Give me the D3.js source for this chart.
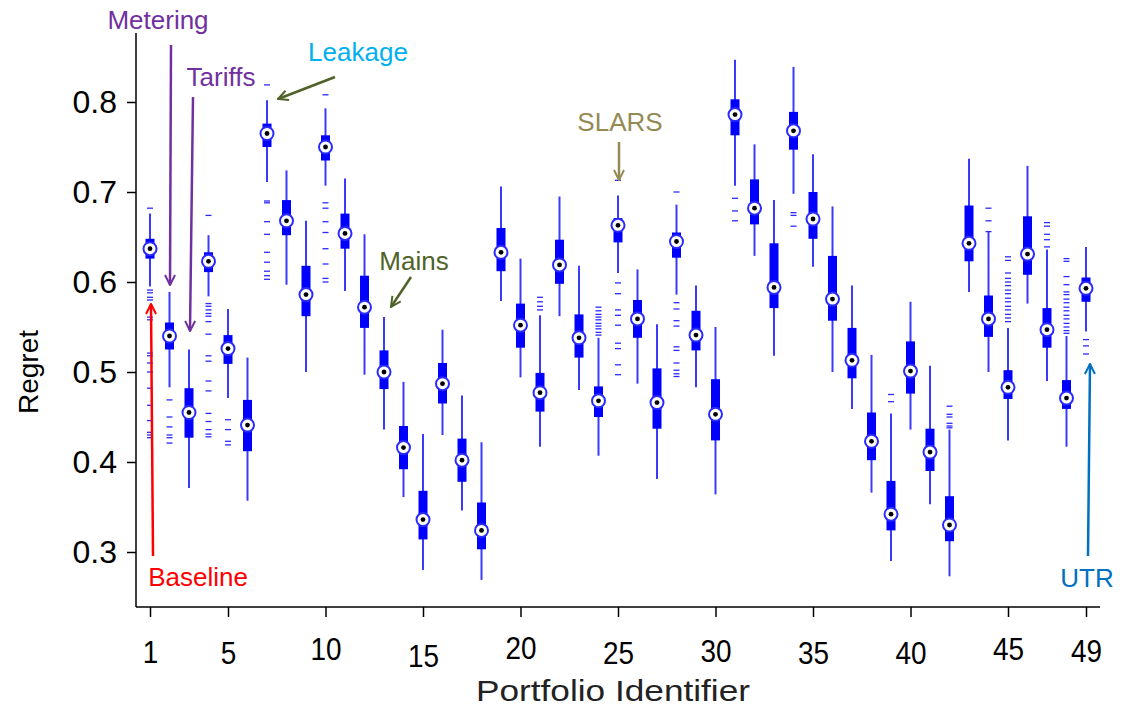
<!DOCTYPE html>
<html>
<head>
<meta charset="utf-8">
<script src="https://cdn.jsdelivr.net/npm/d3@7"></script>
<style>
  html, body { margin: 0; padding: 0; background: #fff; }
  svg { display: block; font-family: Arial, "Liberation Sans", sans-serif; }
</style>
</head>
<body>
<svg id="chart" width="1124" height="706"></svg>
<script>
// Portfolio identifiers 1..49
const portfolios = [1,2,3,4,5,6,7,8,9,10,11,12,13,14,15,16,17,18,19,20,21,22,23,24,25,
  26,27,28,29,30,31,32,33,34,35,36,37,38,39,40,41,42,43,44,45,46,47,48,49];

// Box-plot summaries of regret for each portfolio
const whiskerLow = [0.595,0.483,0.371,0.584,0.471,0.357,0.711,0.597,0.500,0.707,
  0.590,0.497,0.436,0.361,0.280,0.430,0.346,0.269,0.579,0.494,
  0.417,0.562,0.480,0.407,0.610,0.487,0.381,0.586,0.483,0.364,
  0.707,0.629,0.518,0.698,0.617,0.500,0.459,0.366,0.290,0.436,
  0.353,0.273,0.589,0.500,0.424,0.576,0.490,0.417,0.545];
const lowerQuartile = [0.626,0.525,0.427,0.611,0.509,0.412,0.750,0.652,0.562,0.735,
  0.637,0.549,0.481,0.392,0.314,0.465,0.378,0.303,0.612,0.527,
  0.456,0.598,0.516,0.450,0.644,0.538,0.437,0.627,0.524,0.424,
  0.763,0.664,0.571,0.747,0.648,0.557,0.493,0.402,0.324,0.476,
  0.390,0.312,0.623,0.539,0.470,0.608,0.527,0.459,0.578];
const medians = [0.637,0.540,0.455,0.623,0.526,0.441,0.765,0.668,0.586,0.750,
  0.654,0.572,0.500,0.416,0.336,0.487,0.402,0.324,0.633,0.552,
  0.477,0.619,0.538,0.468,0.663,0.559,0.466,0.645,0.541,0.453,
  0.786,0.682,0.594,0.768,0.670,0.581,0.513,0.423,0.342,0.501,
  0.411,0.330,0.643,0.559,0.483,0.631,0.547,0.471,0.593];
const upperQuartile = [0.648,0.555,0.482,0.633,0.541,0.469,0.776,0.691,0.618,0.763,
  0.676,0.607,0.524,0.440,0.368,0.510,0.426,0.355,0.660,0.576,
  0.499,0.647,0.564,0.484,0.671,0.580,0.504,0.655,0.568,0.492,
  0.803,0.714,0.643,0.789,0.700,0.629,0.549,0.455,0.379,0.534,
  0.437,0.362,0.685,0.585,0.502,0.673,0.571,0.491,0.605];
const whiskerHigh = [0.676,0.589,0.525,0.652,0.570,0.516,0.802,0.724,0.668,0.793,
  0.715,0.653,0.561,0.489,0.431,0.547,0.474,0.422,0.706,0.626,
  0.563,0.695,0.618,0.538,0.696,0.614,0.553,0.686,0.596,0.550,
  0.847,0.753,0.691,0.839,0.742,0.684,0.596,0.519,0.454,0.578,
  0.507,0.436,0.737,0.656,0.549,0.729,0.636,0.540,0.639];

// Individual outlying values per portfolio
const outliers = [
  [0.682,0.591,0.588,0.583,0.580,0.561,0.558,0.521,0.518,0.510,0.500,0.482,0.463,0.446,0.433,0.430,0.427],
  [0.469,0.450,0.439,0.430,0.427,0.421],
  [],
  [0.674,0.576,0.573,0.569,0.565,0.562,0.556,0.542,0.518,0.512,0.490,0.479,0.454,0.445,0.436,0.431,0.428],
  [0.447,0.436,0.423,0.419],
  [],
  [0.819,0.690,0.688,0.667,0.653,0.633,0.622,0.612,0.607,0.603],
  [],
  [],
  [0.808,0.688,0.682,0.667,0.655,0.637,0.620,0.604,0.600],
  [], [], [], [], [], [], [], [], [], [],
  [0.583,0.578,0.573,0.569],
  [], [],
  [0.572,0.568,0.564,0.561,0.558,0.554,0.551,0.548,0.544,0.541],
  [0.713,0.599,0.587,0.569,0.563,0.552,0.532,0.526,0.508,0.497],
  [], [],
  [0.700,0.577,0.570,0.557,0.551,0.528,0.524,0.510,0.502,0.498,0.495],
  [], [],
  [0.693,0.679,0.668],
  [], [],
  [0.677,0.674,0.662],
  [], [], [], [],
  [0.475,0.467],
  [], [],
  [0.462,0.453,0.450,0.443,0.440,0.438],
  [],
  [0.682,0.668,0.656],
  [0.628,0.624,0.610,0.604,0.600,0.596,0.591,0.587,0.582,0.578,0.573,0.569,0.564,0.560,0.556],
  [],
  [0.666,0.662,0.653,0.647,0.639],
  [0.626,0.623,0.606,0.597,0.589,0.586,0.581,0.577,0.572,0.568,0.563,0.559,0.554,0.550,0.546,0.543],
  [0.536,0.529,0.520]
];

const xTicks = [1, 5, 10, 15, 20, 25, 30, 35, 40, 45, 49];
const yTicks = [0.3, 0.4, 0.5, 0.6, 0.7, 0.8];

// Call-outs naming individual portfolios
const calloutLabels = ["Metering", "Tariffs", "Leakage", "SLARS", "Mains", "Baseline", "UTR"];
const calloutColors = ["#7030a0", "#7030a0", "#00b0f0", "#948a54", "#4f6228", "#ff0000", "#0070c0"];
const arrowColors   = ["#7030a0", "#7030a0", "#4f6228", "#948a54", "#4f6228", "#ff0000", "#0070c0"];

const svg = d3.select("#chart");

const x = d3.scaleLinear().domain([1, 49]).range([150, 1086]);
const y = d3.scaleLinear().domain([0.3, 0.8]).range([552, 102]);

const axisLeftX = 136, axisBottomY = 607;
// hand-set vertical offsets of the x tick labels
const xLabelNudge = [0, 1, -3, 4, -4, 1, -1, 1, 1, -3, -1];

// Axes
const gy = svg.append("g").attr("transform", `translate(${axisLeftX},0)`)
  .call(d3.axisLeft(y).tickValues(yTicks).tickSize(9).tickPadding(10).tickFormat(d3.format(".1f")));
gy.select(".domain").remove();
gy.append("line").attr("x1", 0).attr("x2", 0).attr("y1", 33).attr("y2", axisBottomY)
  .attr("stroke", "#000").attr("stroke-width", 1.5);
gy.selectAll(".tick line").attr("stroke", "#000").attr("stroke-width", 1.5);
gy.selectAll(".tick text").attr("font-size", 32).attr("fill", "#000")
  .attr("font-family", "Arial, 'Liberation Sans', sans-serif");

const gx = svg.append("g").attr("transform", `translate(0,${axisBottomY})`)
  .call(d3.axisBottom(x).tickValues(xTicks).tickSize(10).tickPadding(0).tickFormat(d3.format("d")));
gx.select(".domain").remove();
gx.append("line").attr("x1", axisLeftX).attr("x2", 1100).attr("y1", 0).attr("y2", 0)
  .attr("stroke", "#000").attr("stroke-width", 1.5);
gx.selectAll(".tick line").attr("stroke", "#000").attr("stroke-width", 1.5);
gx.selectAll(".tick text")
  .attr("font-size", 31).attr("fill", "#000")
  .attr("font-family", "Arial, 'Liberation Sans', sans-serif")
  .attr("dy", null)
  .attr("y", (d, i) => 56 + xLabelNudge[i])
  .attr("transform", "scale(0.9,1)");

svg.append("text").attr("x", 613).attr("y", 701).attr("text-anchor", "middle")
  .attr("font-size", 29).attr("fill", "#222")
  .attr("textLength", 274).attr("lengthAdjust", "spacingAndGlyphs")
  .text("Portfolio Identifier");
svg.append("text").attr("transform", "translate(38,372) rotate(-90)").attr("text-anchor", "middle")
  .attr("font-size", 28).attr("fill", "#000").text("Regret");

// Box plots
const rows = portfolios.map((p, i) => ({
  p, lo: whiskerLow[i], q1: lowerQuartile[i], med: medians[i], q3: upperQuartile[i], hi: whiskerHigh[i], out: outliers[i]
}));

const boxes = svg.append("g").selectAll("g").data(rows).join("g")
  .attr("transform", d => `translate(${x(d.p)},0)`);

boxes.append("line").attr("x1", 0).attr("x2", 0)
  .attr("y1", d => y(d.hi)).attr("y2", d => y(d.lo))
  .attr("stroke", "#3a3aff").attr("stroke-width", 2);

boxes.append("rect").attr("x", -4.5).attr("width", 9)
  .attr("y", d => y(d.q3)).attr("height", d => y(d.q1) - y(d.q3))
  .attr("fill", "#0000ff");

boxes.selectAll("line.out").data(d => d.out).join("line").attr("class", "out")
  .attr("x1", -3).attr("x2", 3)
  .attr("y1", v => y(v)).attr("y2", v => y(v))
  .attr("stroke", "#2a2aff").attr("stroke-width", 1.3);

boxes.append("circle").attr("cy", d => y(d.med)).attr("r", 6.5)
  .attr("fill", "#fff").attr("stroke", "#2a2aff").attr("stroke-width", 2);
boxes.append("circle").attr("cy", d => y(d.med)).attr("r", 2.4).attr("fill", "#000");

// Call-out labels with arrows
const defs = svg.append("defs");
arrowColors.forEach((c, i) => {
  defs.append("marker").attr("id", "arrow" + i)
    .attr("viewBox", "0 0 12 12").attr("refX", 11).attr("refY", 6)
    .attr("markerWidth", 12).attr("markerHeight", 12).attr("markerUnits", "userSpaceOnUse")
    .attr("orient", "auto")
    .append("path").attr("d", "M1,1 L11,6 L1,11").attr("fill", "none")
    .attr("stroke", c).attr("stroke-width", 2);
});

const callouts = [
  { label: 0, tx: 158, ty: 29, from: [171, 45], to: [170, 285] },
  { label: 1, tx: 221, ty: 86, from: [193, 97], to: [190, 331] },
  { label: 2, tx: 358, ty: 61, from: [335, 77], to: [278, 99] },
  { label: 3, tx: 620, ty: 131, from: [619, 142], to: [619, 180] },
  { label: 4, tx: 414, ty: 270, from: [411, 277], to: [391, 307] },
  { label: 5, tx: 198, ty: 586, from: [153, 556], to: [151, 304] },
  { label: 6, tx: 1087, ty: 587, from: [1088, 556], to: [1090, 364] }
];

callouts.forEach(c => {
  svg.append("line").attr("x1", c.from[0]).attr("y1", c.from[1])
    .attr("x2", c.to[0]).attr("y2", c.to[1])
    .attr("stroke", arrowColors[c.label]).attr("stroke-width", 2.5)
    .attr("marker-end", `url(#arrow${c.label})`);
  svg.append("text").attr("x", c.tx).attr("y", c.ty).attr("text-anchor", "middle")
    .attr("font-size", 26).attr("fill", calloutColors[c.label]).text(calloutLabels[c.label]);
});
</script>
</body>
</html>
